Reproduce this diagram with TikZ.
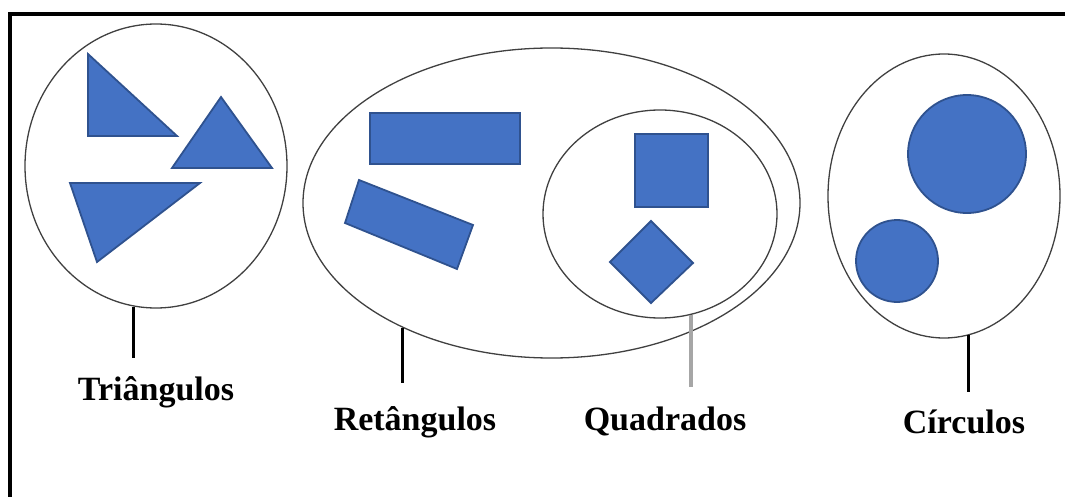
\documentclass[tikz,border=0pt]{standalone}
\usepackage{fontspec}
\setmainfont{Liberation Serif}
\usetikzlibrary{shapes.geometric}
\definecolor{shapeblue}{RGB}{68,114,196}
\definecolor{shapeedge}{RGB}{47,82,143}
\definecolor{ink}{RGB}{64,64,64}
\definecolor{greylead}{RGB}{166,166,166}
\tikzset{
  group/.style 2 args={ellipse,draw=ink,line width=1.3pt,inner sep=0pt,
    minimum width=#1pt,minimum height=#2pt},
  shp/.style={fill=shapeblue,draw=shapeedge,line width=1.8pt},
  dot/.style={circle,fill=shapeblue,draw=shapeedge,line width=1.8pt,inner sep=0pt},
  lead/.style={draw=#1,line width=3pt},
  lead/.default=black,
  lbl/.style={font=\fontsize{34}{36}\selectfont\bfseries,anchor=base,inner sep=0pt},
  frame/.style={draw=black,line width=4pt},
}
\begin{document}
\begin{tikzpicture}[x=1pt,y=1pt]
    \useasboundingbox (0,0) rectangle (1065,-497);
    \draw[frame] (9.5,-497) -- (9.5,-14) -- (1065,-14);

    % triangles
    \node[group={262}{284}] (tri) at (156,-166) {};
    \draw[shp] (88,-54) -- (88,-136) -- (177,-136) -- cycle;
    \draw[shp] (221,-97) -- (172,-168) -- (272,-168) -- cycle;
    \draw[shp] (70,-183) -- (200,-183) -- (97,-262) -- cycle;

    % rectangles, with the squares inside
    \node[group={497}{310}] (ret) at (551.5,-203) {};
    \draw[shp] (370,-113) rectangle (520,-164);
    \draw[shp] (359,-180) -- (473,-225) -- (457,-269) -- (345,-223) -- cycle;
    \node[group={234}{208}] (quad) at (660,-214) {};
    \draw[shp] (635,-134) rectangle (708,-207);
    \draw[shp] (651,-221) -- (693,-263) -- (651,-303) -- (610,-262) -- cycle;

    % circles
    \node[group={232}{284}] (circ) at (944,-196) {};
    \node[dot,minimum size=118pt] (big) at (967,-154) {};
    \node[dot,minimum size=82pt] (small) at (897,-261) {};

    % labels
    \node[lbl] (lbltri) at (156,-400) {Triângulos};
    \node[lbl] (lblret) at (415,-430) {Retângulos};
    \node[lbl] (lblquad) at (665,-430) {Quadrados};
    \node[lbl] (lblcirc) at (964,-433) {Círculos};

    \draw[lead] (tri.261) -- (tri.261 |- 0,-358);
    \draw[lead] (ret.220) -- (ret.220 |- 0,-383);
    \draw[lead=greylead,line width=4.5pt] (quad.287) -- (quad.287 |- 0,-387);
    \draw[lead] (circ.280) -- (circ.280 |- 0,-392);
\end{tikzpicture}
\end{document}
